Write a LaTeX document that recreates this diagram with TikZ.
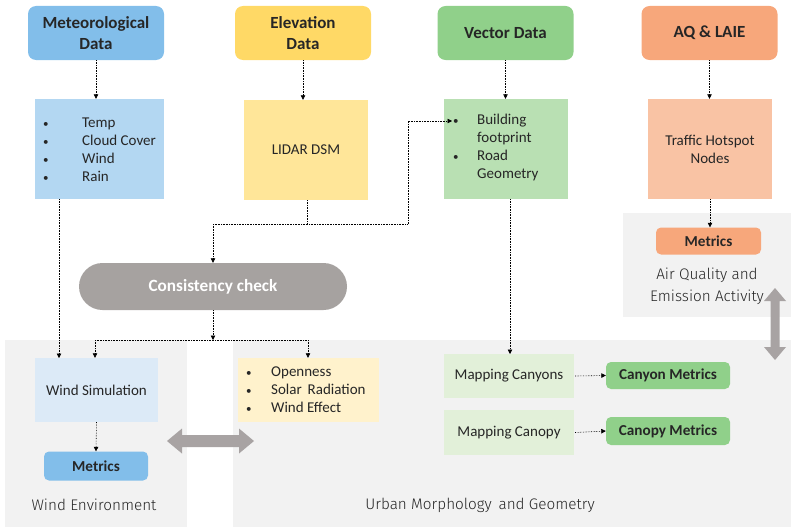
\documentclass[tikz,border=0pt]{standalone}
\usepackage{fontspec}
\setmainfont{Carlito}
\newfontfamily\lightfont{Fira Sans Light}
\usetikzlibrary{arrows.meta}
\definecolor{metH}{HTML}{82BEEA}
\definecolor{metB}{HTML}{B3D7F2}
\definecolor{eleH}{HTML}{FFD966}
\definecolor{eleB}{HTML}{FFE699}
\definecolor{vecH}{HTML}{90D08A}
\definecolor{vecB}{HTML}{B9E0B3}
\definecolor{aqH}{HTML}{F7A77B}
\definecolor{aqB}{HTML}{F9C3A4}
\definecolor{windB}{HTML}{DCEAF7}
\definecolor{openB}{HTML}{FFF2CC}
\definecolor{mapB}{HTML}{E2F0D9}
\definecolor{ccG}{HTML}{A6A2A0}
\definecolor{panelG}{HTML}{F2F2F2}
\definecolor{arrG}{HTML}{A8A3A3}
\definecolor{txt}{HTML}{262626}
\newcommand{\bul}{{\fontsize{11}{18}\selectfont\textbullet}}
\tikzset{
  hdr/.style={rounded corners=8pt, fill=#1, minimum width=136pt, minimum height=54pt, align=center, font=\fontsize{17}{21.5}\selectfont\bfseries, text=txt},
  sub/.style={fill=#1, align=center, font=\fontsize{15}{18}\selectfont, text=txt},
  met/.style={rounded corners=5pt, fill=#1, font=\fontsize{15.2}{17}\selectfont\bfseries, text=txt},
  dotarrow/.style={densely dotted, line width=0.6pt, -{Triangle[width=4.5pt,length=4.5pt]}},
  dotline/.style={densely dotted, line width=0.6pt},
  lbl/.style={font=\lightfont\fontsize{15.3}{22}\selectfont, text=txt, align=center},
  lst/.style={anchor=north west, font=\fontsize{15}{18}\selectfont, text=txt, inner sep=0pt},
}
\begin{document}
\begin{tikzpicture}[x=1pt,y=-1pt]
\useasboundingbox (0,0) rectangle (791,527);
% panels
\fill[panelG] (5,340) rectangle (187,527);
\fill[panelG] (233,340) rectangle (791,527);
\fill[panelG] (623,213) rectangle (791,317);
% headers
\node[hdr=metH] (met) at (96,33) {Meteorological\\Data};
\node[hdr=eleH] (ele) at (303,33) {Elevation\\Data};
\node[hdr=vecH] (vec) at (505.5,33) {Vector Data};
\node[hdr=aqH] (aq) at (709.5,33) {AQ \& LAIE};
% second row
\node[sub=metB, minimum width=129pt, minimum height=100pt] (temp) at (99.5,149) {};
\node[lst] (templ) at (43,115) {\begin{tabular}{@{}p{39pt}@{}l@{}}\bul & Temp\\ \bul & Cloud Cover\\ \bul & Wind\\ \bul & Rain\end{tabular}};
\node[sub=eleB, minimum width=124pt, minimum height=100pt] (lidar) at (306,150) {LIDAR DSM};
\node[sub=vecB, minimum width=124pt, minimum height=100pt] (vsub) at (506,149) {};
\node[lst] (vsubl) at (453,112) {\begin{tabular}{@{}p{24pt}@{}l@{}}\bul & Building\\ & footprint\\ \bul & Road\\ & Geometry\end{tabular}};
\node[sub=aqB, minimum width=124pt, minimum height=100pt] (traffic) at (710,149) {Traffic Hotspot\\Nodes};
\coordinate (bfp) at (452,121);
% consistency check
\node[rounded corners=23.5pt, fill=ccG, minimum width=268pt, minimum height=47pt, text=white, font=\fontsize{17.2}{19}\selectfont\bfseries] (cc) at (213,286.5) {Consistency check};
% lower boxes
\node[sub=windB, minimum width=123pt, minimum height=64pt] (wind) at (96.5,390) {Wind Simulation};
\node[met=metH, minimum width=104pt, minimum height=29pt] (metb) at (96,466) {Metrics};
\node[sub=openB, minimum width=141pt, minimum height=64pt] (open) at (308.5,390) {};
\node[lst] (openl) at (246,364) {\begin{tabular}{@{}p{25pt}@{}l@{}}\bul & Openness\\ \bul & Solar\, Radiation\\ \bul & Wind Effect\end{tabular}};
\node[sub=mapB, minimum width=130pt, minimum height=44pt] (mcany) at (509,376) {Mapping Canyons};
\node[sub=mapB, minimum width=130pt, minimum height=45pt] (mcano) at (509,432.5) {Mapping Canopy};
\node[met=vecH, minimum width=124pt, minimum height=27pt] (canym) at (668,375.5) {Canyon Metrics};
\node[met=vecH, minimum width=124pt, minimum height=28pt] (canom) at (668,431) {Canopy Metrics};
\node[met=aqH, minimum width=105pt, minimum height=27pt] (meto) at (708.5,241) {Metrics};
% labels
\node[lbl] (lwind) at (94,505) {Wind Environment};
\node[lbl] (lurban) at (480,505) {Urban Morphology\, and Geometry};
\node[lbl] (laq) at (707,286) {Air Quality and\\Emission Activity};
% connectors
\draw[dotarrow] (met.south) -- (met.south |- temp.north);
\draw[dotarrow] (ele.south) -- (ele.south |- lidar.north);
\draw[dotarrow] (vec.south) -- (vec.south |- vsub.north);
\draw[dotarrow] (aq.south) -- (aq.south |- traffic.north);
\coordinate (j1) at (307,224);
\coordinate (j2) at (213,224);
\coordinate (j3) at (408,224);
\draw[dotline] (lidar.south -| j1) -- (j1);
\draw[dotarrow] (j2) -- (j3) |- (bfp);
\draw[dotarrow] (j2) -- (cc.north);
\coordinate (k1) at (213,340);
\coordinate (k2) at (95,340);
\coordinate (k3) at (308,340);
\draw[dotline] (k2) -- (k3);
\draw[dotarrow] (k2) -- (k2 |- wind.north);
\draw[dotarrow] (k3) -- (k3 |- open.north);
\draw[dotarrow] (cc.south) -- (cc.south |- k1);
\draw[dotarrow] (temp.south -| 59,0) -- (59,358);
\draw[dotarrow] (wind.south) -- (metb.north);
\draw[dotarrow] (traffic.south) -- (traffic.south |- meto.north);
\draw[dotarrow] (vsub.south -| 510,0) -- (510,354);
\draw[dotarrow] (mcany.east) ++(1,0) -- (canym.west);
\draw[dotarrow] (mcano.east) ++(1,0) -- (canom.west);
% gray double arrows
\fill[arrG] (167,441) -- (182,428.5) -- (182,435) -- (239,435) -- (239,428.5) -- (254,441) -- (239,453.5) -- (239,447) -- (182,447) -- (182,453.5) -- cycle;
\fill[arrG] (775,288) -- (786,301) -- (779.5,301) -- (779.5,347) -- (786,347) -- (775,360) -- (764,347) -- (770.5,347) -- (770.5,301) -- (764,301) -- cycle;
\end{tikzpicture}
\end{document}
